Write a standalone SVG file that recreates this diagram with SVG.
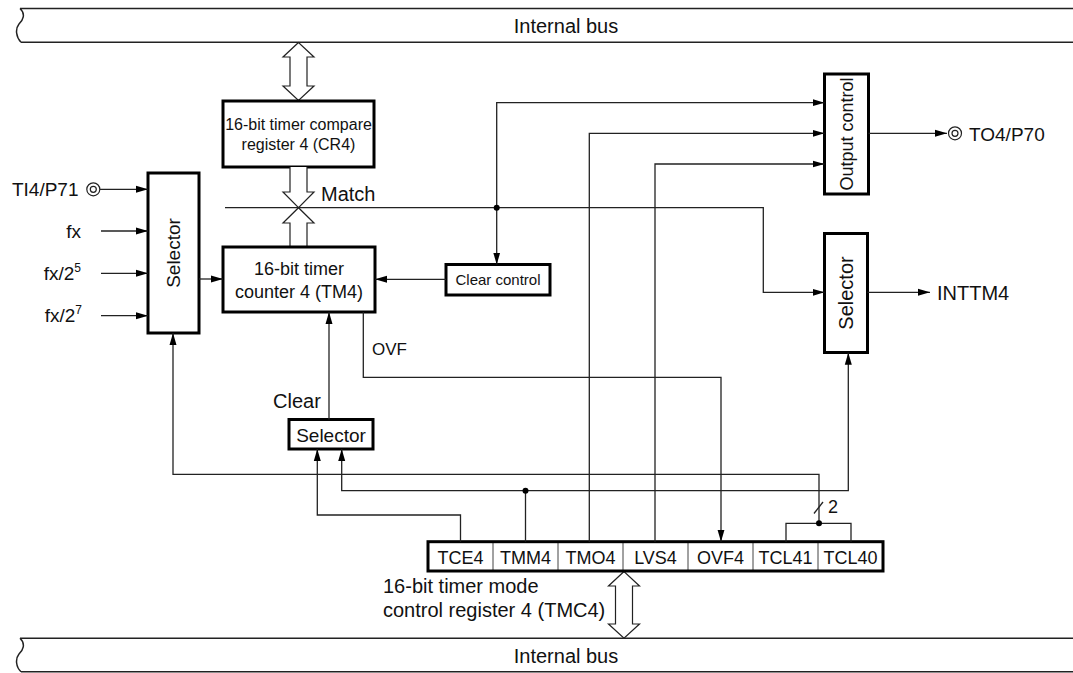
<svg xmlns="http://www.w3.org/2000/svg" width="1073" height="673" viewBox="0 0 1073 673">
<style>
text{font-family:"Liberation Sans",Arial,sans-serif;fill:#111}
.box{fill:#fff;stroke:#000;stroke-width:3}
.ln{fill:none;stroke:#222;stroke-width:1.3}
.bus{fill:none;stroke:#222;stroke-width:1.5}
.ba{fill:#fff;stroke:#222;stroke-width:1.2}
.t20{font-size:20px}
.t19{font-size:19px}
.t18{font-size:18px}
.t17{font-size:17px}
.t16{font-size:16px}
.t15{font-size:15px}
.dot{fill:#000}
</style>
<defs>
<marker id="ah" markerWidth="12" markerHeight="8" refX="12" refY="4" orient="auto" markerUnits="userSpaceOnUse"><path d="M0,0.5 L12,4 L0,7.5 z" fill="#000"/></marker>
</defs>

<g id="bus-top">
<path class="bus" d="M20,8.5 H1073 M21,42.3 H1073 M20,8.5 C26,14 23,20 19,24 C15,29 16,37 21,42.3"/>
<text class="t20" x="566" y="32.5" text-anchor="middle">Internal bus</text>
</g>
<g id="bus-bottom">
<path class="bus" d="M20,638.3 H1073 M21,671.7 H1073 M20,638.3 C26,644 23,650 19,654 C15,659 16,667 21,671.7"/>
<text class="t20" x="566" y="663" text-anchor="middle">Internal bus</text>
</g>

<g id="busarrow-top">
<path class="ba" d="M298.5,42.5 L283,57 H290 V86 H283 L298.5,100.5 L314,86 H307 V57 H314 Z"/>
</g>
<g id="busarrow-bottom">
<path class="ba" d="M624,571.5 L608.5,586 H615.5 V624 H608.5 L624,638.3 L639.5,624 H632.5 V586 H639.5 Z"/>
</g>

<g id="cr4">
<rect class="box" x="223" y="101" width="151" height="66"/>
<text class="t16" x="298.5" y="130" text-anchor="middle">16-bit timer compare</text>
<text class="t16" x="298.5" y="150" text-anchor="middle">register 4 (CR4)</text>
</g>

<g id="cross">
<path class="ba" d="M290,167 V192 H283 L298.5,207.7 L314,192 H307 V167"/>
<path class="ba" d="M290,247 V223 H283 L298.5,207.7 L314,223 H307 V247"/>
</g>

<g id="tm4">
<rect class="box" x="223" y="247" width="152" height="65"/>
<text class="t18" x="299" y="275" text-anchor="middle">16-bit timer</text>
<text class="t18" x="299" y="298" text-anchor="middle">counter 4 (TM4)</text>
</g>

<g id="selector-in">
<rect class="box" x="148" y="173" width="51" height="160"/>
<text class="t19" transform="translate(173.3,253) rotate(-90)" y="7" text-anchor="middle">Selector</text>
</g>

<g id="inputs">
<text class="t19" x="78.5" y="196" text-anchor="end">TI4/P71</text>
<circle cx="93.3" cy="189.3" r="6.5" fill="#fff" stroke="#222" stroke-width="1.2"/>
<circle cx="93.3" cy="189.3" r="3" fill="none" stroke="#222" stroke-width="1.2"/>
<text class="t19" x="81" y="238" text-anchor="end">fx</text>
<text class="t19" x="81" y="280" text-anchor="end">fx/2<tspan font-size="12" dy="-8">5</tspan></text>
<text class="t19" x="82" y="322" text-anchor="end">fx/2<tspan font-size="12" dy="-8">7</tspan></text>
</g>

<g id="clear-control">
<rect class="box" x="446" y="264.5" width="104" height="30.5"/>
<text class="t15" x="498" y="285" text-anchor="middle">Clear control</text>
</g>

<g id="output-control">
<rect class="box" x="824.5" y="74" width="44" height="120"/>
<text class="t18" transform="translate(846.5,134) rotate(-90)" y="6.5" text-anchor="middle">Output control</text>
</g>

<g id="selector-int">
<rect class="box" x="824.5" y="233.5" width="43" height="119"/>
<text class="t20" transform="translate(846,293) rotate(-90)" y="7" text-anchor="middle">Selector</text>
</g>

<g id="selector-clear">
<rect class="box" x="289" y="419.5" width="84" height="29.5"/>
<text class="t19" x="331" y="441.5" text-anchor="middle">Selector</text>
</g>

<g id="tmc4">
<rect x="428" y="541.7" width="455" height="29.3" fill="#fff" stroke="none"/>
<path d="M493,541.7 V571 M558,541.7 V571 M623,541.7 V571 M688,541.7 V571 M753,541.7 V571 M818,541.7 V571" stroke="#444" stroke-width="1"/>
<rect x="428" y="541.7" width="455" height="29.3" fill="none" stroke="#000" stroke-width="3"/>
<g class="t18" text-anchor="middle">
<text x="460.5" y="564">TCE4</text>
<text x="525.5" y="564">TMM4</text>
<text x="590.5" y="564">TMO4</text>
<text x="655.5" y="564">LVS4</text>
<text x="720.5" y="564">OVF4</text>
<text x="785.5" y="564">TCL41</text>
<text x="850.5" y="564">TCL40</text>
</g>
<text class="t20" x="383" y="593">16-bit timer mode</text>
<text class="t20" x="383" y="617">control register 4 (TMC4)</text>
</g>

<g id="connectors">
<path class="ln" marker-end="url(#ah)" d="M100,189.3 H148"/>
<path class="ln" marker-end="url(#ah)" d="M101,231 H148"/>
<path class="ln" marker-end="url(#ah)" d="M101,273.3 H148"/>
<path class="ln" marker-end="url(#ah)" d="M101,315.7 H148"/>
<path class="ln" marker-end="url(#ah)" d="M199,279 H223"/>
<path class="ln" marker-end="url(#ah)" d="M225,207.7 H763.3 V292.3 H824.5"/>
<path class="ln" marker-end="url(#ah)" d="M496.7,207.7 V102.7 H824.5"/>
<path class="ln" marker-end="url(#ah)" d="M496.7,207.7 V264.5"/>
<path class="ln" marker-end="url(#ah)" d="M446,279.3 H375"/>
<path class="ln" marker-end="url(#ah)" d="M589.3,541.7 V133.3 H824.5"/>
<path class="ln" marker-end="url(#ah)" d="M655,541.7 V164 H824.5"/>
<path class="ln" marker-end="url(#ah)" d="M868.5,133.3 H947"/>
<path class="ln" marker-end="url(#ah)" d="M867.5,292.3 H930"/>
<path class="ln" marker-end="url(#ah)" d="M363.3,312 V377.3 H721 V541.7"/>
<path class="ln" marker-end="url(#ah)" d="M329,419.5 V312"/>
<path class="ln" marker-end="url(#ah)" d="M460.5,541.7 V515 H317.3 V449"/>
<path class="ln" d="M525.5,541.7 V490.7"/>
<path class="ln" marker-end="url(#ah)" d="M525.5,490.7 H341.7 V449"/>
<path class="ln" marker-end="url(#ah)" d="M525.5,490.7 H848.3 V352.7"/>
<path class="ln" d="M786,541.7 V523.3 H851 V541.7"/>
<path class="ln" marker-end="url(#ah)" d="M819,523.3 V474.3 H173 V333"/>
<path class="ln" d="M814,513.5 L823,502"/>
<circle class="dot" cx="496.7" cy="207.7" r="3"/>
<circle class="dot" cx="525.5" cy="490.7" r="3"/>
<circle class="dot" cx="819" cy="523.3" r="3"/>
</g>

<g id="labels">
<text class="t20" x="321" y="201">Match</text>
<text class="t17" x="372" y="355">OVF</text>
<text class="t20" x="273" y="407.5">Clear</text>
<text class="t18" x="828" y="513">2</text>
<text class="t20" x="937" y="299.5">INTTM4</text>
<circle cx="955" cy="133.3" r="6.5" fill="#fff" stroke="#222" stroke-width="1.2"/>
<circle cx="955" cy="133.3" r="3" fill="none" stroke="#222" stroke-width="1.2"/>
<text class="t19" x="969" y="140.5">TO4/P70</text>
</g>
</svg>
